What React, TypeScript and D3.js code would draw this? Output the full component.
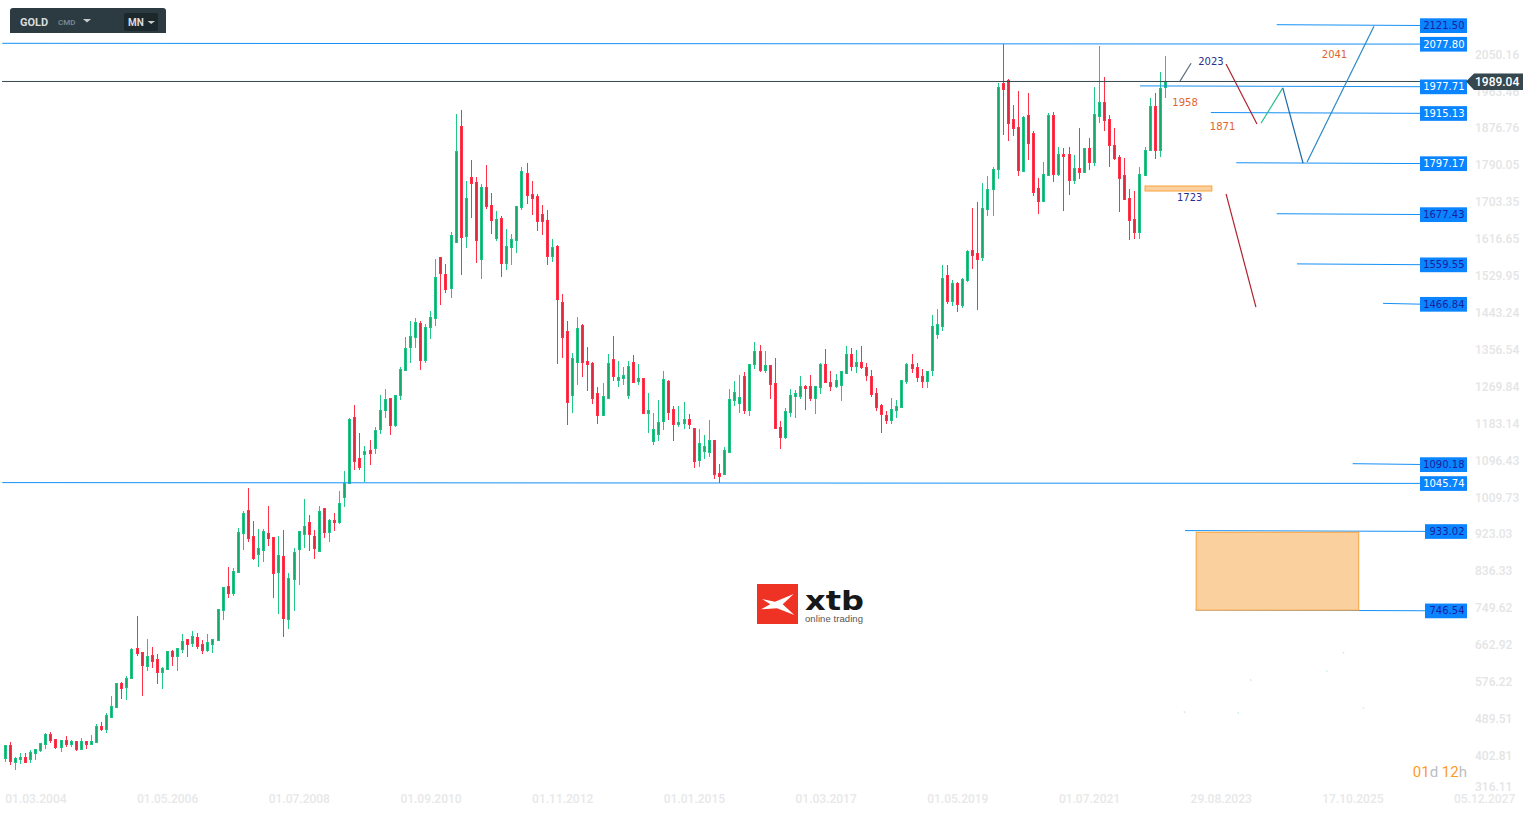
import React, { useEffect, useRef } from 'react';
import * as d3 from 'd3';

// monthly candles, first bar is 01.03.2004
const opens = [
  398, 430, 389, 395, 402, 395, 409, 416, 430, 456,
  444, 423, 442, 430, 440, 419, 440, 430, 435, 475,
  466, 494, 517, 576, 564, 585, 658, 649, 614, 642,
  632, 600, 607, 651, 637, 654, 679, 668, 684, 668,
  651, 665, 675, 746, 804, 785, 835, 926, 982, 921,
  877, 886, 928, 919, 834, 874, 724, 818, 889, 924,
  954, 921, 884, 987, 928, 959, 952, 1011, 1044, 1201,
  1105, 1112, 1123, 1126, 1170, 1215, 1245, 1180, 1249, 1309,
  1363, 1386, 1422, 1332, 1410, 1431, 1577, 1537, 1501, 1610,
  1884, 1624, 1765, 1753, 1570, 1741, 1699, 1619, 1668, 1560,
  1598, 1614, 1692, 1774, 1725, 1720, 1678, 1664, 1577, 1603,
  1471, 1403, 1250, 1328, 1417, 1332, 1328, 1257, 1203, 1243,
  1337, 1286, 1290, 1250, 1330, 1283, 1293, 1208, 1142, 1159,
  1189, 1285, 1220, 1182, 1184, 1196, 1175, 1098, 1119, 1116,
  1147, 1069, 1065, 1116, 1238, 1231, 1297, 1215, 1323, 1356,
  1309, 1323, 1281, 1178, 1152, 1210, 1248, 1248, 1274, 1274,
  1243, 1269, 1325, 1283, 1271, 1274, 1302, 1349, 1318, 1330,
  1318, 1297, 1257, 1229, 1206, 1192, 1215, 1222, 1283, 1325,
  1318, 1297, 1283, 1309, 1394, 1412, 1534, 1471, 1516, 1462,
  1520, 1593, 1586, 1574, 1687, 1734, 1781, 1985, 1992, 1901,
  1882, 1776, 1910, 1868, 1739, 1706, 1767, 1910, 1769, 1819,
  1819, 1755, 1786, 1774, 1833, 1798, 1906, 1941, 1901, 1840,
  1812, 1769, 1715, 1666, 1633, 1767, 1826, 1931, 1826, 1974,
];
const closes = [
  430, 390, 399, 402, 388, 413, 421, 434, 456, 440,
  423, 442, 430, 440, 419, 440, 430, 440, 475, 466,
  501, 522, 576, 562, 588, 656, 644, 616, 639, 625,
  600, 611, 651, 637, 658, 675, 665, 686, 661, 651,
  672, 679, 750, 802, 785, 839, 931, 975, 914, 867,
  893, 933, 914, 832, 877, 727, 823, 884, 933, 945,
  924, 891, 980, 928, 959, 952, 999, 1046, 1196, 1095,
  1081, 1121, 1114, 1170, 1217, 1243, 1180, 1253, 1314, 1363,
  1391, 1424, 1332, 1412, 1436, 1530, 1537, 1499, 1628, 1826,
  1621, 1715, 1748, 1614, 1741, 1694, 1661, 1666, 1560, 1603,
  1619, 1697, 1779, 1720, 1713, 1659, 1659, 1577, 1600, 1476,
  1387, 1234, 1340, 1410, 1328, 1323, 1243, 1203, 1250, 1328,
  1295, 1295, 1300, 1321, 1281, 1293, 1208, 1217, 1173, 1189,
  1290, 1210, 1182, 1189, 1196, 1182, 1095, 1140, 1133, 1147,
  1065, 1060, 1123, 1243, 1260, 1248, 1215, 1325, 1356, 1309,
  1323, 1276, 1173, 1152, 1215, 1253, 1257, 1274, 1267, 1243,
  1274, 1325, 1281, 1271, 1288, 1309, 1349, 1318, 1330, 1316,
  1297, 1253, 1222, 1206, 1192, 1220, 1227, 1288, 1325, 1314,
  1293, 1283, 1309, 1415, 1419, 1527, 1471, 1516, 1464, 1525,
  1591, 1579, 1570, 1692, 1736, 1783, 1976, 1969, 1889, 1877,
  1779, 1906, 1842, 1727, 1706, 1772, 1910, 1769, 1819, 1812,
  1755, 1786, 1774, 1833, 1798, 1913, 1941, 1896, 1837, 1807,
  1760, 1711, 1661, 1633, 1772, 1828, 1931, 1826, 1974, 1989.04,
];
const highs = [
  431, 437, 401, 411, 411, 418, 421, 434, 458, 461,
  444, 442, 452, 442, 440, 447, 440, 454, 480, 484,
  506, 546, 576, 578, 593, 658, 733, 649, 679, 661,
  644, 614, 651, 654, 658, 691, 679, 698, 694, 677,
  691, 679, 750, 802, 849, 846, 940, 980, 1034, 957,
  938, 938, 992, 919, 921, 936, 834, 893, 933, 1008,
  971, 936, 992, 987, 961, 976, 1027, 1074, 1199, 1229,
  1163, 1133, 1147, 1178, 1253, 1267, 1245, 1253, 1318, 1389,
  1426, 1433, 1427, 1419, 1450, 1572, 1577, 1560, 1635, 1913,
  1922, 1755, 1805, 1765, 1748, 1793, 1727, 1685, 1673, 1643,
  1631, 1697, 1788, 1798, 1755, 1725, 1699, 1687, 1619, 1605,
  1490, 1426, 1351, 1436, 1419, 1365, 1330, 1271, 1281, 1349,
  1391, 1332, 1318, 1332, 1347, 1325, 1293, 1257, 1210, 1241,
  1309, 1288, 1227, 1227, 1236, 1208, 1175, 1173, 1159, 1194,
  1147, 1091, 1130, 1267, 1285, 1300, 1307, 1325, 1377, 1370,
  1356, 1323, 1340, 1192, 1222, 1267, 1264, 1297, 1276, 1300,
  1274, 1328, 1361, 1309, 1302, 1309, 1368, 1363, 1358, 1368,
  1328, 1311, 1269, 1231, 1215, 1246, 1241, 1288, 1328, 1349,
  1328, 1314, 1309, 1440, 1455, 1558, 1558, 1523, 1518, 1527,
  1593, 1692, 1706, 1751, 1767, 1788, 1985, 2077, 1995, 1934,
  1967, 1908, 1962, 1873, 1762, 1800, 1915, 1917, 1835, 1833,
  1835, 1816, 1880, 1833, 1856, 1976, 2072, 2000, 1910, 1880,
  1816, 1809, 1736, 1732, 1788, 1835, 1950, 1962, 2011, 2049,
];
const lows = [
  391, 384, 372, 386, 387, 388, 395, 414, 421, 435,
  421, 414, 426, 426, 416, 419, 421, 430, 435, 463,
  459, 494, 517, 538, 536, 585, 640, 546, 604, 611,
  574, 562, 607, 616, 604, 647, 637, 661, 656, 644,
  649, 647, 675, 724, 776, 781, 835, 889, 907, 865,
  849, 860, 898, 776, 738, 684, 703, 745, 806, 893,
  886, 867, 884, 917, 907, 933, 950, 990, 1044, 1076,
  1076, 1048, 1088, 1114, 1161, 1199, 1158, 1177, 1241, 1309,
  1328, 1363, 1311, 1328, 1384, 1415, 1464, 1492, 1481, 1610,
  1534, 1598, 1668, 1563, 1525, 1690, 1631, 1614, 1530, 1546,
  1558, 1586, 1687, 1701, 1676, 1638, 1628, 1558, 1565, 1325,
  1340, 1182, 1210, 1276, 1295, 1262, 1231, 1184, 1203, 1243,
  1285, 1271, 1276, 1243, 1281, 1276, 1208, 1163, 1135, 1145,
  1170, 1194, 1145, 1177, 1173, 1172, 1081, 1083, 1102, 1107,
  1055, 1046, 1065, 1116, 1227, 1210, 1208, 1203, 1314, 1307,
  1304, 1243, 1173, 1126, 1149, 1201, 1199, 1243, 1217, 1238,
  1208, 1255, 1281, 1262, 1269, 1238, 1302, 1309, 1304, 1314,
  1285, 1248, 1215, 1163, 1184, 1184, 1199, 1222, 1278, 1304,
  1283, 1269, 1269, 1297, 1384, 1403, 1466, 1462, 1448, 1457,
  1518, 1549, 1452, 1567, 1673, 1673, 1760, 1863, 1849, 1861,
  1767, 1776, 1805, 1720, 1678, 1706, 1767, 1753, 1767, 1685,
  1722, 1748, 1760, 1774, 1781, 1790, 1892, 1873, 1788, 1805,
  1682, 1711, 1617, 1619, 1619, 1767, 1826, 1807, 1812, 1950,
];

const priceTicks = [
  2050.16, 1963.46, 1876.76, 1790.05, 1703.35, 1616.65, 1529.95, 1443.24, 1356.54, 1269.84, 1183.14,
  1096.43, 1009.73, 923.03, 836.33, 749.62, 662.92, 576.22, 489.51, 402.81, 316.11,
];
const dateTicks = [
  '01.03.2004', '01.05.2006', '01.07.2008', '01.09.2010', '01.11.2012', '01.01.2015',
  '01.03.2017', '01.05.2019', '01.07.2021', '29.08.2023', '17.10.2025', '05.12.2027',
];

// horizontal levels: price, bar where the line starts, label text is dark or not
const levelPrices = [2121.5, 2077.8, 1977.71, 1915.13, 1797.17, 1677.43, 1559.55, 1466.84, 1090.18, 1045.74, 933.02, 746.54];
const levelStarts = [251, -0.6, 224, 238, 243, 251, 255, 272, 266, -0.6, 232.9, 235];
const levelDark = [true, false, false, false, false, true, true, true, true, false, true, true];

const lastPrice = 1989.04;

// drawn scenario: [bar, price, bar, price, colour]
const trendLines: [number, number, number, number, string][] = [
  [231.9, 1990, 234.1, 2032, '#5f6f7c'],
  [241, 2030, 247.1, 1889, '#b3202f'],
  [247.9, 1891, 252.2, 1974, '#22c08a'],
  [252.2, 1974, 256.2, 1797, '#1c6aa8'],
  [257, 1800, 270.2, 2119, '#2a8ac6'],
  [241, 1725, 246.9, 1459, '#b3202f'],
];
const notes: [string, number, number, string][] = [
  ['2023', 235.5, 2037, '#2b2f8f'],
  ['2041', 259.9, 2054, '#e0652b'],
  ['1958', 230.4, 1941, '#e0652b'],
  ['1871', 237.8, 1884, '#e0652b'],
  ['1723', 231.3, 1718, '#2b2f8f'],
];
// [bar start, bar end, price top, price bottom]
const zones: [number, number, number, number][] = [
  [225, 238.2, 1743.5, 1731.7],
  [235.1, 267.2, 930, 747],
];
// leftover scraps of hidden drawings near the bottom
const specks: [number, number][] = [
  [232.7, 510], [243.3, 508], [245.8, 585], [260.8, 606], [264.1, 649], [268, 520],
];

const up = { wick: '#1fc985', edge: '#1fc283', core: '#17a96c' };
const down = { wick: '#ff3148', edge: '#ff3148', core: '#dd2b42' };

const App: React.FC = () => {
  const svgRef = useRef<SVGSVGElement>(null);

  useEffect(() => {
    if (!svgRef.current) return;
    const svg = d3.select(svgRef.current);
    svg.selectAll('*').remove();

    const x = d3.scaleLinear().domain([0, 286]).range([5.3, 1454]);
    const y = d3.scaleLinear().domain([2077.8, 1045.74]).range([43.7, 483]);
    const px = (i: number) => Math.floor(x(i)) + 0.5;

    // price axis sits under everything
    svg
      .append('g')
      .selectAll('text')
      .data(priceTicks)
      .join('text')
      .attr('x', 1475)
      .attr('y', d => Math.min(y(d) - 1, 787))
      .attr('dy', '0.35em')
      .attr('font-family', 'Roboto')
      .attr('font-weight', 500)
      .attr('font-size', 12)
      .attr('fill', '#e4e5e6')
      .text(d => d.toFixed(2));

    svg
      .append('g')
      .selectAll('text')
      .data(dateTicks)
      .join('text')
      .attr('x', (_d, i) => x(i * 26))
      .attr('y', 803)
      .attr('font-family', 'Roboto')
      .attr('font-weight', 500)
      .attr('font-size', 12)
      .attr('fill', '#e7e8e9')
      .text(d => d);

    // logo
    const logo = svg.append('g').attr('transform', 'translate(757,584)');
    logo.append('rect').attr('width', 41).attr('height', 40).attr('fill', '#ee3325');
    logo
      .append('polygon')
      .attr('points', '5,15 18,17.7 36.7,10 25.7,20.3 37.3,31 20,24.3 4,25.3 13.3,20.3')
      .attr('fill', '#fff');
    logo
      .append('text')
      .attr('x', 48)
      .attr('y', 26)
      .attr('font-family', 'DejaVu Sans')
      .attr('font-weight', 700)
      .attr('font-size', 26)
      .attr('textLength', 59)
      .attr('lengthAdjust', 'spacingAndGlyphs')
      .attr('fill', '#16181a')
      .text('xtb');
    logo
      .append('text')
      .attr('x', 48)
      .attr('y', 37.5)
      .attr('font-family', 'Liberation Sans')
      .attr('font-size', 9.5)
      .attr('textLength', 58)
      .attr('fill', '#555')
      .text('online trading');

    // candles
    const candles = svg
      .append('g')
      .attr('shape-rendering', 'crispEdges')
      .selectAll('g')
      .data(d3.range(opens.length))
      .join('g');
    const tone = (i: number) => (closes[i] >= opens[i] ? up : down);
    candles
      .append('line')
      .attr('x1', px)
      .attr('x2', px)
      .attr('y1', i => y(highs[i]))
      .attr('y2', i => y(lows[i]))
      .attr('stroke', i => tone(i).wick);
    candles
      .append('rect')
      .attr('x', i => px(i) - 1.5)
      .attr('width', 3)
      .attr('y', i => y(Math.max(opens[i], closes[i])))
      .attr('height', i => Math.max(1, Math.abs(y(opens[i]) - y(closes[i]))))
      .attr('fill', i => tone(i).edge);
    candles
      .append('rect')
      .attr('x', i => px(i) - 0.5)
      .attr('width', 1)
      .attr('y', i => y(Math.max(opens[i], closes[i])) + 1)
      .attr('height', i => Math.max(0, Math.abs(y(opens[i]) - y(closes[i])) - 2))
      .attr('fill', i => tone(i).core);

    // support and resistance levels
    const labelWidth = (d: number) => (d >= 1000 ? 47 : 42);
    svg
      .append('g')
      .selectAll('line')
      .data(levelPrices)
      .join('line')
      .attr('x1', (_d, i) => x(levelStarts[i]))
      .attr('x2', d => 1467 - labelWidth(d))
      .attr('y1', d => y(d) - 0.4)
      .attr('y2', d => y(d) + 0.4)
      .attr('stroke', '#1590f5')
      .attr('stroke-width', 1);

    svg
      .append('line')
      .attr('x1', 2)
      .attr('x2', 1468)
      .attr('y1', y(lastPrice))
      .attr('y2', y(lastPrice))
      .attr('stroke', '#36474f')
      .attr('stroke-width', 1);

    // zones
    svg
      .append('g')
      .selectAll('rect')
      .data(zones)
      .join('rect')
      .attr('x', d => x(d[0]))
      .attr('width', d => x(d[1]) - x(d[0]))
      .attr('y', d => y(d[2]))
      .attr('height', d => y(d[3]) - y(d[2]))
      .attr('fill', '#fbd09f')
      .attr('stroke', '#f8a33d')
      .attr('stroke-width', 1);

    // level tags over the last price line
    const tags = svg.append('g').selectAll('g').data(levelPrices).join('g');
    tags
      .append('rect')
      .attr('x', d => 1467 - labelWidth(d))
      .attr('width', labelWidth)
      .attr('y', d => y(d) - 6.8)
      .attr('height', 14.7)
      .attr('fill', '#0a84ff');
    tags
      .append('text')
      .attr('x', 1464.5)
      .attr('y', d => y(d) + 0.4)
      .attr('dy', '0.36em')
      .attr('text-anchor', 'end')
      .attr('font-family', 'DejaVu Sans')
      .attr('font-size', 10)
      .attr('fill', (_d, i) => (levelDark[i] ? '#1c1f9e' : '#ffffff'))
      .text(d => d.toFixed(2));

    // scenario lines
    svg
      .append('g')
      .selectAll('line')
      .data(trendLines)
      .join('line')
      .attr('x1', d => x(d[0]))
      .attr('y1', d => y(d[1]))
      .attr('x2', d => x(d[2]))
      .attr('y2', d => y(d[3]))
      .attr('stroke', d => d[4])
      .attr('stroke-width', 1.2);

    svg
      .append('g')
      .selectAll('line')
      .data(specks)
      .join('line')
      .attr('x1', d => x(d[0]))
      .attr('y1', d => y(d[1]))
      .attr('x2', d => x(d[0]) + 1)
      .attr('y2', d => y(d[1]) + 2)
      .attr('stroke', '#a9dcd6')
      .attr('stroke-width', 0.7);

    svg
      .append('g')
      .selectAll('text')
      .data(notes)
      .join('text')
      .attr('x', d => x(d[1]))
      .attr('y', d => y(d[2]) + 0.7)
      .attr('dy', '0.36em')
      .attr('font-family', 'DejaVu Sans')
      .attr('font-size', 10)
      .attr('fill', d => d[3])
      .text(d => d[0]);

    // last price tag
    const tagY = y(lastPrice);
    svg
      .append('path')
      .attr('d', `M1466,${tagY} L1474,${tagY - 8} H1523 V${tagY + 8.5} H1474 Z`)
      .attr('fill', '#37474f');
    svg
      .append('text')
      .attr('x', 1475)
      .attr('y', tagY)
      .attr('dy', '0.35em')
      .attr('font-family', 'Roboto')
      .attr('font-weight', 500)
      .attr('font-size', 12)
      .attr('fill', '#fff')
      .text(lastPrice.toFixed(2));

    // bar countdown
    const timer = svg
      .append('text')
      .attr('x', 1467)
      .attr('y', 777)
      .attr('text-anchor', 'end')
      .attr('font-family', 'Roboto')
      .attr('font-size', 15);
    [
      ['01', '#ff9a1f'],
      ['d ', '#b9bfc5'],
      ['12', '#ff9a1f'],
      ['h', '#b9bfc5'],
    ].forEach(([t, c]) => timer.append('tspan').attr('fill', c).text(t));

    // instrument widget
    const widget = svg.append('g');
    widget
      .append('path')
      .attr('d', 'M10,33 V11 Q10,8 13,8 H163 Q166,8 166,11 V33 Z')
      .attr('fill', '#2c3a41');
    widget
      .append('rect')
      .attr('x', 124)
      .attr('y', 13)
      .attr('width', 34)
      .attr('height', 18)
      .attr('rx', 2)
      .attr('fill', '#1d282d');
    const widgetText = (t: string, tx: number, size: number, weight: number, fill: string) =>
      widget
        .append('text')
        .attr('x', tx)
        .attr('y', 22)
        .attr('dy', '0.36em')
        .attr('font-family', 'Roboto')
        .attr('font-size', size)
        .attr('font-weight', weight)
        .attr('fill', fill)
        .text(t);
    widgetText('GOLD', 20, 11, 700, '#d8dcdf');
    widgetText('CMD', 58, 8, 500, '#7d8d96');
    widgetText('MN', 128, 10, 700, '#d8dcdf');
    widget.append('path').attr('d', 'M83,19 H91 L87,22.5 Z').attr('fill', '#c9cdd0');
    widget.append('path').attr('d', 'M147.5,21 H155 L151.2,24 Z').attr('fill', '#c9cdd0');
  }, []);

  return (
    <svg
      ref={svgRef}
      width={1535}
      height={817}
      style={{ position: 'absolute', left: 0, top: 0, display: 'block', background: '#fff' }}
      role="img"
      aria-label="Gold monthly candlestick chart with support and resistance levels"
    />
  );
};

export default App;
